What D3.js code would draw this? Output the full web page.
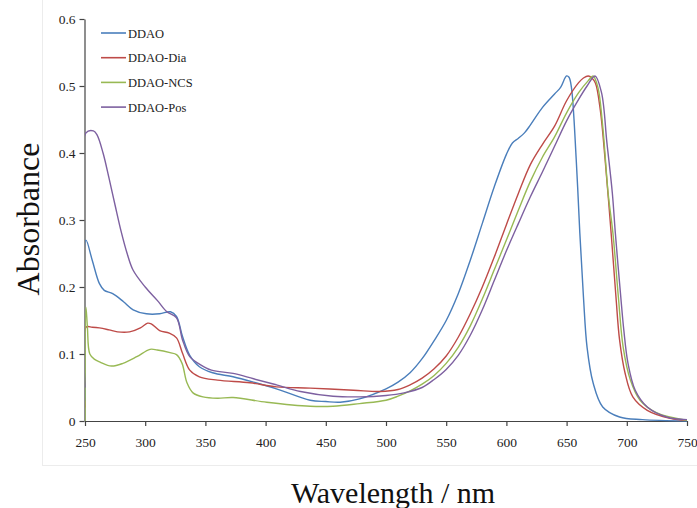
<!DOCTYPE html>
<html>
<head>
<meta charset="utf-8">
<script src="https://cdn.jsdelivr.net/npm/d3@7/dist/d3.min.js"></script>
<style>
  html, body { margin: 0; padding: 0; background: #fff; }
  svg { display: block; }
</style>
</head>
<body>
<svg id="chart" width="697" height="508"></svg>
<script>
// Absorption spectra of DDAO and its conjugates
const seriesNames = ["DDAO", "DDAO-Dia", "DDAO-NCS", "DDAO-Pos"];
const seriesColors = ["#4A7EBB", "#BE4B48", "#98B954", "#7D60A0"];

const xTicks = [250, 300, 350, 400, 450, 500, 550, 600, 650, 700, 750];
const yTicks = [0, 0.1, 0.2, 0.3, 0.4, 0.5, 0.6];
const yTickLabels = ["0", "0.1", "0.2", "0.3", "0.4", "0.5", "0.6"];

// DDAO
const ddaoWl = [250, 250.8, 256, 262, 266, 273, 282, 290, 301, 312, 321, 326, 331, 337, 345, 356, 373, 390, 409, 437, 450, 462, 478, 500, 510, 520, 530, 540, 550, 560, 570, 580, 590, 600, 605, 610, 615, 620, 630, 640, 645, 650, 652, 654, 658, 661, 664, 667, 672, 680, 694, 713, 750];
const ddaoAbs = [0.03, 0.27, 0.24, 0.205, 0.195, 0.19, 0.178, 0.166, 0.16, 0.16, 0.163, 0.156, 0.126, 0.098, 0.081, 0.072, 0.066, 0.058, 0.048, 0.031, 0.029, 0.028, 0.033, 0.048, 0.058, 0.072, 0.093, 0.12, 0.15, 0.19, 0.24, 0.295, 0.35, 0.398, 0.415, 0.422, 0.43, 0.442, 0.468, 0.488, 0.498, 0.515, 0.513, 0.498, 0.39, 0.28, 0.185, 0.11, 0.057, 0.021, 0.006, 0.002, 0.0];

// DDAO-Dia
const diaWl = [250, 250.8, 256, 262, 270, 277, 287, 296, 302, 305, 312, 320, 326, 331, 337, 345, 360, 387, 409, 437, 473, 495, 510, 520, 530, 540, 550, 560, 570, 580, 590, 600, 610, 620, 630, 640, 650, 660, 664, 668, 671, 674, 678, 682, 687, 691, 694, 698.5, 705, 717, 736, 750];
const diaAbs = [0.02, 0.14, 0.14, 0.139, 0.136, 0.133, 0.133, 0.139, 0.146, 0.145, 0.135, 0.131, 0.124, 0.101, 0.076, 0.066, 0.061, 0.057, 0.051, 0.049, 0.046, 0.044, 0.047, 0.054, 0.064, 0.078, 0.097, 0.125, 0.16, 0.2, 0.245, 0.293, 0.34, 0.383, 0.413, 0.44, 0.478, 0.505, 0.512, 0.515, 0.512, 0.504, 0.464, 0.39, 0.28, 0.185, 0.121, 0.072, 0.036, 0.016, 0.004, 0.001];

// DDAO-NCS
const ncsWl = [250, 250.8, 252, 254, 258, 262.5, 272, 281.5, 293, 304, 310, 320.6, 326, 330.6, 334.7, 339.7, 348, 360, 373, 401, 437, 456, 478, 500, 510, 520, 530, 540, 550, 560, 570, 580, 590, 600, 610, 620, 630, 640, 650, 660, 668, 672, 676, 680, 684.5, 688.5, 693, 697, 703, 711, 725, 750];
const ncsAbs = [0.0, 0.17, 0.14, 0.1, 0.092, 0.088, 0.082, 0.086, 0.096, 0.107, 0.106, 0.102, 0.099, 0.086, 0.057, 0.042, 0.036, 0.034, 0.035, 0.028, 0.022, 0.022, 0.026, 0.031, 0.037, 0.045, 0.055, 0.068, 0.086, 0.11, 0.142, 0.182, 0.226, 0.27, 0.315, 0.358, 0.394, 0.424, 0.46, 0.49, 0.508, 0.515, 0.498, 0.44, 0.34, 0.28, 0.185, 0.11, 0.061, 0.031, 0.012, 0.001];

// DDAO-Pos
const posWl = [250, 250.8, 257, 260, 265, 270, 275, 280, 285, 290, 300, 310, 318, 326, 331, 337, 345, 355, 373, 390, 409, 429, 456, 478, 500, 515, 530, 540, 550, 560, 570, 580, 590, 600, 610, 620, 630, 640, 650, 660, 667, 673.6, 679, 683.5, 688, 690.5, 695, 697.5, 701, 707, 717, 733, 750];
const posAbs = [0.05, 0.43, 0.433, 0.427, 0.4, 0.362, 0.322, 0.283, 0.25, 0.225, 0.2, 0.18, 0.163, 0.154, 0.121, 0.096, 0.085, 0.076, 0.071, 0.063, 0.054, 0.044, 0.037, 0.036, 0.038, 0.042, 0.05, 0.062, 0.077, 0.098, 0.128, 0.166, 0.21, 0.254, 0.295, 0.335, 0.372, 0.41, 0.448, 0.48, 0.5, 0.515, 0.49, 0.415, 0.34, 0.28, 0.185, 0.136, 0.086, 0.046, 0.021, 0.006, 0.002];

const seriesWl = [ddaoWl, diaWl, ncsWl, posWl];
const seriesAbs = [ddaoAbs, diaAbs, ncsAbs, posAbs];

const svg = d3.select("#chart");

// chart-area frame
svg.append("rect")
  .attr("x", 42.5).attr("y", -2)
  .attr("width", 700).attr("height", 467.5)
  .attr("fill", "#fff")
  .attr("stroke", "#ececec")
  .attr("stroke-width", 1);

const x = d3.scaleLinear().domain([250, 750]).range([85, 687]);
const y = d3.scaleLinear().domain([0, 0.6]).range([421, 19]);

// keep the traces inside the plotting range
svg.append("defs").append("clipPath").attr("id", "plot-clip")
  .append("rect")
  .attr("x", x(250)).attr("y", y(0.6) - 5)
  .attr("width", x(750) - x(250) + 2).attr("height", y(0) - y(0.6) + 6);

const axisColor = "#444";

// x axis
const xAxis = svg.append("g")
  .attr("transform", `translate(0,${y(0)})`)
  .call(d3.axisBottom(x).tickValues(xTicks).tickSize(5).tickSizeOuter(0).tickFormat(d3.format("d")));
xAxis.select(".domain").attr("stroke", axisColor).attr("stroke-width", 1.2);
xAxis.selectAll(".tick line").attr("stroke", axisColor).attr("stroke-width", 1.2);
xAxis.selectAll(".tick text")
  .attr("y", 16)
  .attr("fill", "#222")
  .style("font-family", "'Liberation Serif', serif")
  .style("font-size", "13.5px");

// y axis
const yAxis = svg.append("g")
  .attr("transform", `translate(${x(250) - 0.5},0)`)
  .call(d3.axisLeft(y).tickValues(yTicks).tickSize(5).tickSizeOuter(0)
    .tickFormat((d, i) => yTickLabels[i]));
yAxis.select(".domain").attr("stroke", axisColor).attr("stroke-width", 1.2);
yAxis.selectAll(".tick line").attr("stroke", axisColor).attr("stroke-width", 1.2);
yAxis.selectAll(".tick text")
  .attr("x", -9)
  .attr("fill", "#222")
  .style("font-family", "'Liberation Serif', serif")
  .style("font-size", "13.5px");

// spectra
const line = d3.line()
  .x(d => x(d[0]))
  .y(d => y(d[1]))
  .curve(d3.curveCatmullRom.alpha(0.5));

const traces = svg.append("g").attr("clip-path", "url(#plot-clip)");
seriesNames.forEach((name, i) => {
  const pts = seriesWl[i].map((w, j) => [w, seriesAbs[i][j]]);
  traces.append("path")
    .datum(pts)
    .attr("fill", "none")
    .attr("stroke", seriesColors[i])
    .attr("stroke-width", 1.4)
    .attr("stroke-linejoin", "round")
    .attr("d", line);
});

// legend
const legend = svg.append("g").attr("transform", "translate(101,33)");
seriesNames.forEach((name, i) => {
  const g = legend.append("g").attr("transform", `translate(0,${i * 24.7})`);
  g.append("line")
    .attr("x1", 0).attr("x2", 25).attr("y1", 0).attr("y2", 0)
    .attr("stroke", seriesColors[i]).attr("stroke-width", 1.6);
  g.append("text")
    .attr("x", 27).attr("y", 4.5)
    .attr("fill", "#222")
    .style("font-family", "'Liberation Serif', serif")
    .style("font-size", "12.5px")
    .text(name);
});

// axis titles
svg.append("text")
  .attr("x", 393).attr("y", 503)
  .attr("text-anchor", "middle")
  .attr("fill", "#111")
  .style("font-family", "'Liberation Serif', 'Times New Roman', serif")
  .style("font-size", "30px")
  .text("Wavelength / nm");

svg.append("text")
  .attr("transform", "translate(39,219) rotate(-90)")
  .attr("text-anchor", "middle")
  .attr("fill", "#111")
  .style("font-family", "'Liberation Serif', 'Times New Roman', serif")
  .style("font-size", "32px")
  .text("Absorbance");
</script>
</body>
</html>
